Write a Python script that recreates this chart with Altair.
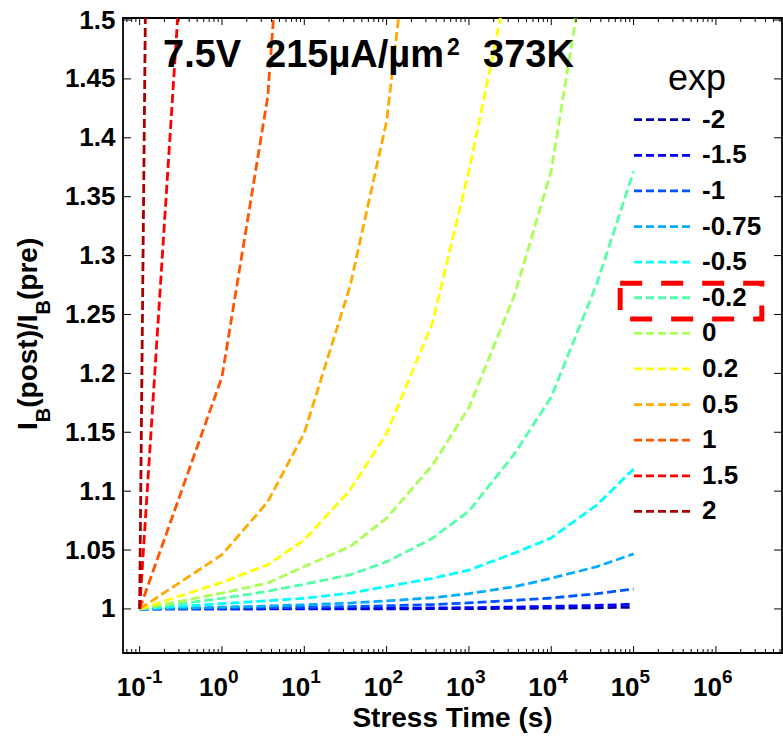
import altair as alt
import pandas as pd

FONT = "Liberation Sans, Arial, sans-serif"

# ---------------- data ----------------
times = [0.1, 1, 3.6, 10, 36, 100, 360, 1000, 3600, 1e4, 3.6e4, 1e5]
exp_labels = ["-2", "-1.5", "-1", "-0.75", "-0.5", "-0.2", "0", "0.2", "0.5", "1", "1.5", "2"]
colors = ["#0000AA", "#0000FF", "#0055FF", "#00AAFF", "#00FFFF", "#55FFAA",
          "#AAFF55", "#FFFF00", "#FFAA00", "#FF5500", "#FF0000", "#AA0000"]

r_m2 = [1, 1.00002, 1.00004, 1.00006, 1.0001, 1.00015, 1.0002, 1.0003, 1.0005, 1.0007, 1.001, 1.0015]
r_m15 = [1, 1.0001, 1.0002, 1.0003, 1.0004, 1.0006, 1.0008, 1.0011, 1.0016, 1.0022, 1.003, 1.004]
r_m1 = [1, 1.0006, 1.001, 1.0014, 1.002, 1.0027, 1.0037, 1.0051, 1.0073, 1.0093, 1.013, 1.017]
r_m075 = [1, 1.0015, 1.0025, 1.0035, 1.005, 1.0068, 1.0095, 1.013, 1.019, 1.026, 1.036, 1.0467]
r_m05 = [1, 1.0045, 1.007, 1.009, 1.0135, 1.019, 1.026, 1.033, 1.0475, 1.0603, 1.0885, 1.1188]
r_m02 = [1, 1.009, 1.015, 1.021, 1.029, 1.040, 1.060, 1.083, 1.132, 1.180, 1.2767, 1.3715]
r_0 = [1, 1.0135, 1.022, 1.036, 1.053, 1.077, 1.122, 1.171, 1.267, 1.372, 1.613]
r_02 = [1, 1.0225, 1.0375, 1.0586, 1.101, 1.149, 1.2428, 1.372, 1.56]
r_05 = [1, 1.046, 1.091, 1.1494, 1.274, 1.414, 1.75]
r_1 = [1, 1.197, 1.435, 1.86]
r_15 = [1, 2.087]
r_2 = [1, 8.24]

series = {"-2": r_m2, "-1.5": r_m15, "-1": r_m1, "-0.75": r_m075, "-0.5": r_m05,
          "-0.2": r_m02, "0": r_0, "0.2": r_02, "0.5": r_05, "1": r_1, "1.5": r_15, "2": r_2}

x_major = [0.1, 1, 10, 100, 1e3, 1e4, 1e5, 1e6]
x_exponents = ["-1", "0", "1", "2", "3", "4", "5", "6"]
y_ticks = [1.0, 1.05, 1.1, 1.15, 1.2, 1.25, 1.3, 1.35, 1.4, 1.45, 1.5]

x_domain = [0.0628, 6.35e6]
y_domain = [0.9626, 1.5017]

x_minor = [k * 10.0 ** d for d in range(-2, 7) for k in range(2, 10)
           if x_domain[0] <= k * 10.0 ** d <= x_domain[1]]

title_parts = ["7.5V", "215\u00b5A/\u00b5m", "2", "373K"]
x_title = "Stress Time (s)"
legend_title = "exp"
# highlight box around the -0.2 legend entry (data coordinates)
box_t = [6.87e4, 3.61e6]
box_v = [1.2462, 1.2765]

# ---------------- tables ----------------
rows = []
for lab in exp_labels:
    for t, v in zip(times, series[lab]):
        rows.append({"exp": lab, "t": t, "ratio": v})
df = pd.DataFrame(rows)
leg_df = pd.DataFrame({"exp": exp_labels})
xmaj_df = pd.DataFrame({"t": x_major, "base": ["10"] * len(x_major), "e": x_exponents})
xmin_df = pd.DataFrame({"t": x_minor})
yt_df = pd.DataFrame({"v": y_ticks})
box_df = pd.DataFrame({"t0": [box_t[0]], "t1": [box_t[1]], "v0": [box_v[0]], "v1": [box_v[1]]})

W, H = 659, 635

xs = alt.Scale(type="log", domain=x_domain, nice=False)
ys = alt.Scale(domain=y_domain, nice=False, zero=False)
cs = alt.Scale(domain=exp_labels, range=colors)

yaxis = alt.Axis(values=y_ticks, format=".3~g", ticks=False, domain=False, grid=False,
                 labelFont=FONT, labelFontSize=26, labelFontWeight="bold",
                 labelColor="black", labelPadding=8, labelFlush=False,
                 labelOverlap=False)

lines = alt.Chart(df).mark_line(clip=True, strokeWidth=2.8, strokeDash=[9, 4]).encode(
    x=alt.X("t:Q", scale=xs, axis=None),
    y=alt.Y("ratio:Q", scale=ys, title=None, axis=yaxis),
    color=alt.Color("exp:N", scale=cs, legend=None),
    order=alt.Order("t:Q"),
)

def xtick(data, y0, y1):
    return alt.Chart(data).mark_rule(color="black", strokeWidth=1).encode(
        x=alt.X("t:Q", scale=xs, axis=None), y=alt.value(y0), y2=alt.value(y1))

def ytick(x0, x1):
    return alt.Chart(yt_df).mark_rule(color="black", strokeWidth=1).encode(
        y=alt.Y("v:Q", scale=ys, title=None, axis=yaxis), x=alt.value(x0), x2=alt.value(x1))

ticks = [xtick(xmaj_df, H, H - 7), xtick(xmaj_df, 0, 7),
         xtick(xmin_df, H, H - 4), xtick(xmin_df, 0, 4),
         ytick(0, 8), ytick(W - 8, W)]

xlab_base = alt.Chart(xmaj_df).mark_text(align="right", baseline="alphabetic", dx=6,
                                         fontSize=26, fontWeight="bold", font=FONT,
                                         color="black").encode(
    x=alt.X("t:Q", scale=xs, axis=None), y=alt.value(H + 42.7), text="base:N")
xlab_exp = alt.Chart(xmaj_df).mark_text(align="left", baseline="alphabetic", dx=6,
                                        fontSize=19, fontWeight="bold", font=FONT,
                                        color="black").encode(
    x=alt.X("t:Q", scale=xs, axis=None), y=alt.value(H + 29.7), text="e:N")

box = alt.Chart(box_df).mark_rect(fillOpacity=0, stroke="#FF0000", strokeWidth=5,
                                  strokeDash=[22, 19]).encode(
    x=alt.X("t0:Q", scale=xs, axis=None), x2="t1:Q",
    y=alt.Y("v0:Q", scale=ys, title=None, axis=yaxis), y2="v1:Q")

def label(text, x, y, size, weight="bold", angle=0, align="left"):
    return alt.Chart(pd.DataFrame({"s": [text]})).mark_text(
        align=align, baseline="alphabetic", fontSize=size, fontWeight=weight,
        font=FONT, color="black", angle=angle).encode(
        x=alt.value(x), y=alt.value(y), text="s:N")

texts = [
    label(title_parts[0], 40, 49, 38),
    label(title_parts[1], 142, 49, 38),
    label(title_parts[2], 324, 37, 23),
    label(title_parts[3], 360, 49, 38),
    label(x_title, W / 2, 709, 28, align="center"),
    # y title: I_B(post)/I_B(pre), read bottom to top
    label("I", -86, 412, 28, angle=270),
    label("B", -73, 404.2, 20, angle=270),
    label("(post)/I", -86, 389.8, 28, angle=270),
    label("B", -73, 296.5, 20, angle=270),
    label("(pre)", -86, 282.0, 28, angle=270),
]

inner = alt.layer(lines, *ticks, xlab_base, xlab_exp, box, *texts)

leg_y = alt.Y("exp:N", sort=exp_labels, axis=None,
              scale=alt.Scale(type="point", range=[101.7, 493.4], padding=0))
leg_rules = alt.Chart(leg_df).mark_rule(strokeWidth=2.8, strokeDash=[8, 4]).encode(
    x=alt.value(511), x2=alt.value(569), y=leg_y,
    color=alt.Color("exp:N", scale=cs, legend=None))
leg_text = alt.Chart(leg_df).mark_text(align="left", baseline="middle", fontSize=26,
                                       fontWeight="bold", font=FONT, color="black").encode(
    x=alt.value(579), y=leg_y, text="exp:N")
leg_title = label(legend_title, 545, 72, 36, weight="normal")

chart = alt.layer(inner, leg_rules, leg_text, leg_title).resolve_scale(
    y="independent"
).properties(
    width=W, height=H,
    autosize=alt.AutoSizeParams(type="none"),
    padding={"left": 123, "top": 18, "right": 1, "bottom": 83},
    background="white",
).configure_view(stroke="black", strokeWidth=1.8)

chart.save("out.html", embed_options={"renderer": "svg", "actions": False})
